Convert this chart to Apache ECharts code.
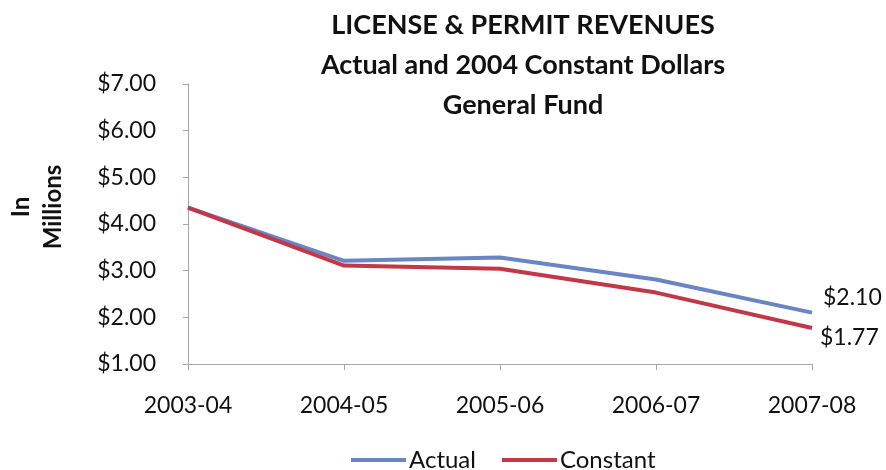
<!DOCTYPE html>
<html>
<head>
<meta charset="utf-8">
<script src="https://cdn.jsdelivr.net/npm/echarts@6/dist/echarts.min.js"></script>
<style>
  html, body { margin: 0; padding: 0; background: #ffffff; }
  #chart { width: 886px; height: 470px; }
</style>
</head>
<body>
<div id="chart"></div>
<script>
// Fiscal years on the category axis
const years = ['2003-04', '2004-05', '2005-06', '2006-07', '2007-08'];
// License & permit revenues, in millions of dollars
const actual = [4.35, 3.21, 3.28, 2.81, 2.10];
const constant = [4.35, 3.11, 3.04, 2.53, 1.77];
// Y-axis range and step
const yMin = 1, yMax = 7, yStep = 1;

const FONT = 'Lato, "Open Sans", sans-serif';
const BLUE = '#6a85c4';
const RED = '#c13848';
const AXIS = '#a6a6a6';

const chart = echarts.init(document.getElementById('chart'), null, { renderer: 'canvas' });

function endLabel(offset) {
  return {
    show: true,
    offset: offset,
    fontFamily: FONT,
    fontSize: 23,
    color: '#111',
    formatter: p => '$' + Number(p.value).toFixed(2)
  };
}

chart.setOption({
  backgroundColor: '#ffffff',
  animation: false,
  title: {
    text: 'LICENSE & PERMIT REVENUES\nActual and 2004 Constant Dollars\nGeneral Fund',
    left: 518,
    top: 0,
    textAlign: 'center',
    textStyle: {
      fontFamily: FONT,
      fontWeight: 'bold',
      fontSize: 27,
      lineHeight: 40,
      color: '#111'
    }
  },
  legend: {
    data: ['Actual', 'Constant'],
    left: 346,
    top: 443,
    itemWidth: 55,
    itemHeight: 4,
    itemGap: 26,
    icon: 'rect',
    textStyle: { fontFamily: FONT, fontSize: 24, color: '#111', padding: [0, 0, 0, -2] }
  },
  grid: { left: 188, right: 74, top: 84, bottom: 106, containLabel: false },
  xAxis: {
    type: 'category',
    data: years,
    boundaryGap: false,
    axisLine: { lineStyle: { color: AXIS, width: 1 } },
    axisTick: { show: true, length: 6, lineStyle: { color: AXIS } },
    axisLabel: { fontFamily: FONT, fontSize: 23, color: '#111', margin: 30 }
  },
  yAxis: {
    type: 'value',
    min: yMin,
    max: yMax,
    interval: yStep,
    axisLine: { show: true, lineStyle: { color: AXIS, width: 1 } },
    axisTick: { show: true, length: 5, lineStyle: { color: AXIS } },
    splitLine: { show: false },
    axisLabel: {
      fontFamily: FONT, fontSize: 23, color: '#111', margin: 32,
      formatter: v => '$' + v.toFixed(2)
    }
  },
  graphic: [{
    type: 'text',
    x: 37,
    y: 207,
    rotation: Math.PI / 2,
    style: {
      text: 'In\nMillions',
      fontFamily: FONT,
      fontWeight: 'bold',
      fontSize: 24,
      lineHeight: 32,
      fill: '#111',
      align: 'center',
      verticalAlign: 'middle'
    }
  }],
  series: [
    {
      name: 'Actual',
      type: 'line',
      data: actual,
      symbol: 'none',
      color: BLUE,
      lineStyle: { width: 4, color: BLUE },
      endLabel: endLabel([3, -15]),
      z: 2
    },
    {
      name: 'Constant',
      type: 'line',
      data: constant,
      symbol: 'none',
      color: RED,
      lineStyle: { width: 4, color: RED },
      endLabel: endLabel([0, 10]),
      z: 3
    }
  ]
});
</script>
</body>
</html>
